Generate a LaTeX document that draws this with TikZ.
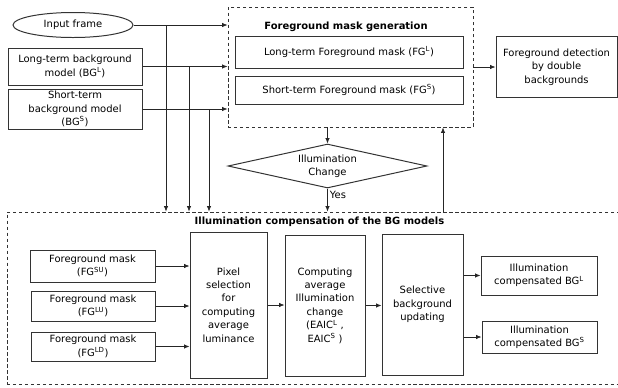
\documentclass[tikz,border=0pt]{standalone}
\usepackage{fontspec}
\setmainfont{DejaVu Sans}
\usetikzlibrary{shapes.geometric,arrows.meta}
\begin{document}
\begin{tikzpicture}[x=1bp,y=-1bp,
  font=\fontsize{10}{13.5}\selectfont,
  box/.style={draw=black!80, line width=1pt, align=center, inner sep=1pt},
  arr/.style={draw=black!85, -{Latex[length=5.5pt,width=4.5pt]}, line width=0.75pt},
  frame/.style={draw=black!80, dash pattern=on 3.5pt off 2.5pt, line width=0.9pt, inner sep=0pt},
  ttl/.style={font=\fontsize{10}{12}\selectfont\bfseries, inner sep=0pt}]
\useasboundingbox (0,0) rectangle (618,387);

% upper group
\node[box, ellipse, inner sep=0pt, minimum width=120bp, minimum height=25bp] (in) at (73,25) {Input frame};
\node[box, minimum width=134bp, minimum height=37bp] (bgl) at (75,66.5) {Long-term background\\model (BG\textsuperscript{L})};
\node[box, minimum width=134bp, minimum height=40bp] (bgs) at (75,109) {Short-term\\background model\\(BG\textsuperscript{S})};

\node[frame, minimum width=245bp, minimum height=120bp] (gen) at (350.5,67) {};
\node[ttl] (gent) at (346,27) {Foreground mask generation};
\node[box, minimum width=228bp, minimum height=32bp] (fgl) at (349,52) {Long-term Foreground mask (FG\textsuperscript{L})};
\node[box, minimum width=228bp, minimum height=28bp] (fgs) at (349,90) {Short-term Foreground mask (FG\textsuperscript{S})};

\node[box, minimum width=121bp, minimum height=61bp] (det) at (556.5,67) {Foreground detection\\by double\\backgrounds};

\node[box, diamond, aspect=4.5, inner sep=0pt, minimum width=199bp, minimum height=44bp] (ill) at (327.5,166) {Illumination\\Change};

% lower group
\node[frame, minimum width=618bp, minimum height=172bp] (comp) at (316,298) {};
\node[ttl] (compt) at (319.5,222) {Illumination compensation of the BG models};

\node[box, minimum width=125bp, minimum height=32bp] (su) at (92.5,266) {Foreground mask\\(FG\textsuperscript{SU})};
\node[box, minimum width=124bp, minimum height=30bp] (lu) at (93,306) {Foreground mask\\(FG\textsuperscript{LU})};
\node[box, minimum width=124bp, minimum height=29bp] (ld) at (93,346.5) {Foreground mask\\(FG\textsuperscript{LD})};

\node[box, minimum width=77bp, minimum height=146bp] (pix) at (228.5,305) {Pixel\\selection\\for\\computing\\average\\luminance};
\node[box, minimum width=80bp, minimum height=141bp] (cmp) at (325,305.5) {Computing\\average\\Illumination\\change\\(EAIC\textsuperscript{L} ,\\EAIC\textsuperscript{S} )};
\node[box, minimum width=81bp, minimum height=141bp] (sel) at (422.5,304.5) {Selective\\background\\updating};

\node[box, minimum width=116bp, minimum height=39bp] (icl) at (539,275.5) {Illumination\\compensated BG\textsuperscript{L}};
\node[box, minimum width=115bp, minimum height=32bp] (ics) at (539.5,337) {Illumination\\compensated BG\textsuperscript{S}};

% connectors upper
\draw[arr] (in.east) -- (in.east -| gen.west);
\draw[arr] (bgl.east) -- (bgl.east -| gen.west);
\draw[arr] (bgs.east) -- (bgs.east -| gen.west);
\coordinate (j1) at (166,25);
\coordinate (j2) at (189,66.5);
\coordinate (j3) at (209,109);
\draw[arr] (j1) -- (j1 |- comp.north);
\draw[arr] (j2) -- (j2 |- comp.north);
\draw[arr] (j3) -- (j3 |- comp.north);
\draw[arr] (gen.east |- det.west) -- (det.west);
\draw[arr] (ill.north |- gen.south) -- (ill.north);
\draw[arr] (ill.south) -- (ill.south |- comp.north) node[pos=0.3, right, inner sep=2pt] {Yes};
\coordinate (up) at (443,212);
\draw[arr] (up) -- (up |- gen.south);

% connectors lower
\draw[arr] (su.east) -- (su.east -| pix.west);
\draw[arr] (lu.east) -- (lu.east -| pix.west);
\draw[arr] (ld.east) -- (ld.east -| pix.west);
\draw[arr] (pix.east) -- (pix.east -| cmp.west);
\draw[arr] (cmp.east) -- (cmp.east -| sel.west);
\draw[arr] (sel.east |- icl.west) -- (icl.west);
\draw[arr] (sel.east |- ics.west) -- (ics.west);
\end{tikzpicture}
\end{document}
